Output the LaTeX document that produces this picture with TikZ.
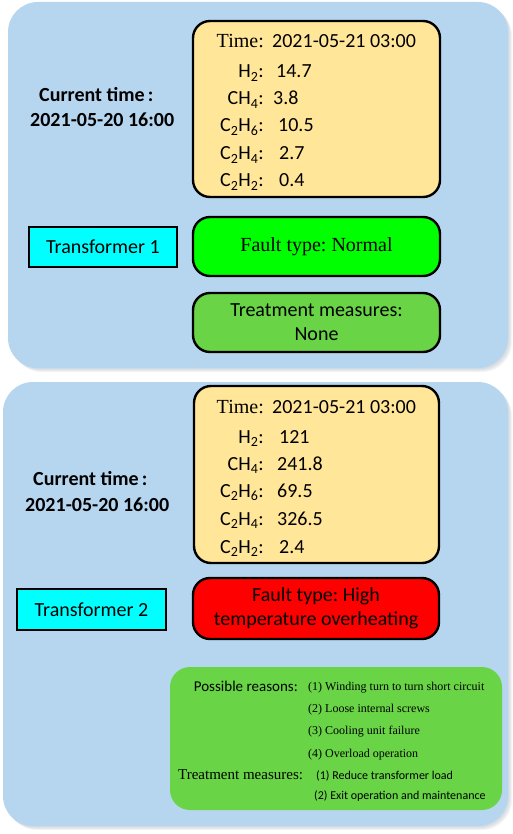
\documentclass[tikz,border=0pt]{standalone}
\usepackage{fontspec}
\setmainfont{Liberation Serif}
\newfontfamily\calib{Carlito}
\frenchspacing
\definecolor{panelblue}{RGB}{182,214,240}
\definecolor{shadowc}{RGB}{150,165,180}
\definecolor{dgayellow}{RGB}{255,230,153}
\definecolor{brightgreen}{RGB}{0,255,0}
\definecolor{midgreen}{RGB}{104,212,70}
\definecolor{tcyan}{RGB}{0,255,255}
\definecolor{fred}{RGB}{255,0,0}
\tikzset{
  panel/.style={fill=panelblue, rounded corners=30pt},
  pshadow/.style={fill=shadowc, opacity=0.12, rounded corners=30pt},
  rbox/.style={draw=black, line width=2.4pt, rounded corners=17pt, inner sep=0pt},
  tbox/.style={draw=black, line width=2.4pt, inner sep=0pt},
  big/.style={font=\frenchspacing\fontsize{20}{24}\selectfont},
  bigsans/.style={font=\calib\frenchspacing\fontsize{20}{24}\selectfont},
  bigsansbold/.style={font=\calib\bfseries\fontsize{20}{24}\selectfont},
  smallserif/.style={font=\fontsize{12}{14}\selectfont},
  smallsans/.style={font=\calib\fontsize{12}{14}\selectfont},
  midserif/.style={font=\fontsize{15}{18}\selectfont},
  midsans/.style={font=\calib\fontsize{15}{18}\selectfont},
  lab/.style={bigsans, anchor=base east, inner sep=0pt},
  val/.style={bigsans, anchor=base west, inner sep=0pt},
}
\begin{document}
\begin{tikzpicture}[x=1pt,y=-1pt]
\useasboundingbox (0,0) rectangle (512,834);
% panel shadows
\foreach \d in {1,2,3,4}{
  \fill[pshadow] (8+\d,2+\d) rectangle (508+\d,368+\d);
  \fill[pshadow] (3+\d,382+\d) rectangle (508+\d,826+\d);
}
% panels
\fill[panel] (8,2) rectangle (508,368);
\fill[panel] (3,382) rectangle (508,826);

% ---------- Panel 1 ----------
\node[bigsansbold, anchor=base west, inner sep=0pt] (ct1) at (39,102) {Current time\,:};
\node[bigsansbold, anchor=base west, inner sep=0pt] (cd1) at (30,127) {2021-05-20 16:00};

\node[rbox, fill=dgayellow, minimum width=247pt, minimum height=176pt] (y1) at (316.5,109) {};
\node[big, anchor=base east, inner sep=0pt] (t1l) at (264,48) {Time:};
\node[val] (t1v) at (272,48) {2021-05-21 03:00};
\node[lab] (h1l) at (264,78) {H\textsubscript{2}:};
\node[val] (h1v) at (276,78) {14.7};
\node[lab] (m1l) at (264,105) {CH\textsubscript{4}:};
\node[val] (m1v) at (273,105) {3.8};
\node[lab] (e1l) at (264,132) {C\textsubscript{2}H\textsubscript{6}:};
\node[val] (e1v) at (278,132) {10.5};
\node[lab] (f1l) at (264,160) {C\textsubscript{2}H\textsubscript{4}:};
\node[val] (f1v) at (279,160) {2.7};
\node[lab] (a1l) at (264,187) {C\textsubscript{2}H\textsubscript{2}:};
\node[val] (a1v) at (279,187) {0.4};

\node[tbox, fill=tcyan, minimum width=148pt, minimum height=40pt, bigsans] (tr1) at (103,247) {Transformer 1};
\node[rbox, fill=brightgreen, minimum width=247pt, minimum height=59pt, big] (ft1) at (316.5,246.5) {Fault type: Normal};
\node[rbox, fill=midgreen, minimum width=247pt, minimum height=59pt, bigsans, align=center] (tm1) at (316.5,322.5) {Treatment measures:\\None};

% ---------- Panel 2 ----------
\node[bigsansbold, anchor=base west, inner sep=0pt] (ct2) at (33,485) {Current time\,:};
\node[bigsansbold, anchor=base west, inner sep=0pt] (cd2) at (25,511) {2021-05-20 16:00};

\node[rbox, fill=dgayellow, minimum width=245pt, minimum height=177pt] (y2) at (316.5,474.5) {};
\node[big, anchor=base east, inner sep=0pt] (t2l) at (264,413) {Time:};
\node[val] (t2v) at (272,413) {2021-05-21 03:00};
\node[lab] (h2l) at (264,443) {H\textsubscript{2}:};
\node[val] (h2v) at (279,443) {121};
\node[lab] (m2l) at (264,470) {CH\textsubscript{4}:};
\node[val] (m2v) at (277,470) {241.8};
\node[lab] (e2l) at (264,497) {C\textsubscript{2}H\textsubscript{6}:};
\node[val] (e2v) at (277,497) {69.5};
\node[lab] (f2l) at (264,525) {C\textsubscript{2}H\textsubscript{4}:};
\node[val] (f2v) at (277,525) {326.5};
\node[lab] (a2l) at (264,553) {C\textsubscript{2}H\textsubscript{2}:};
\node[val] (a2v) at (279,553) {2.4};

\node[tbox, fill=tcyan, minimum width=149pt, minimum height=41pt, bigsans] (tr2) at (91.5,609.5) {Transformer 2};
\node[rbox, fill=fred, minimum width=246pt, minimum height=61pt, bigsans, align=center] (ft2) at (316,608.5) {Fault type: High\\temperature overheating};

\node[fill=midgreen, rounded corners=20pt, minimum width=332pt, minimum height=143pt, inner sep=0pt] (g2) at (336,738.5) {};
\node[midsans, anchor=base east, inner sep=0pt] (pr) at (298,691) {Possible reasons:};
\node[smallserif, anchor=base west, inner sep=0pt] (r1) at (308,690) {(1) Winding turn to turn short circuit};
\node[smallserif, anchor=base west, inner sep=0pt] (r2) at (308,712) {(2) Loose internal screws};
\node[smallserif, anchor=base west, inner sep=0pt] (r3) at (308,734) {(3) Cooling unit failure};
\node[smallserif, anchor=base west, inner sep=0pt] (r4) at (308,757) {(4) Overload operation};
\node[midserif, anchor=base west, inner sep=0pt] (tm2) at (178,779) {Treatment measures:};
\node[smallsans, anchor=base west, inner sep=0pt] (m1) at (316,779) {(1) Reduce transformer load};
\node[smallsans, anchor=base west, inner sep=0pt] (m2) at (314,799) {(2) Exit operation and maintenance};
\end{tikzpicture}
\end{document}
